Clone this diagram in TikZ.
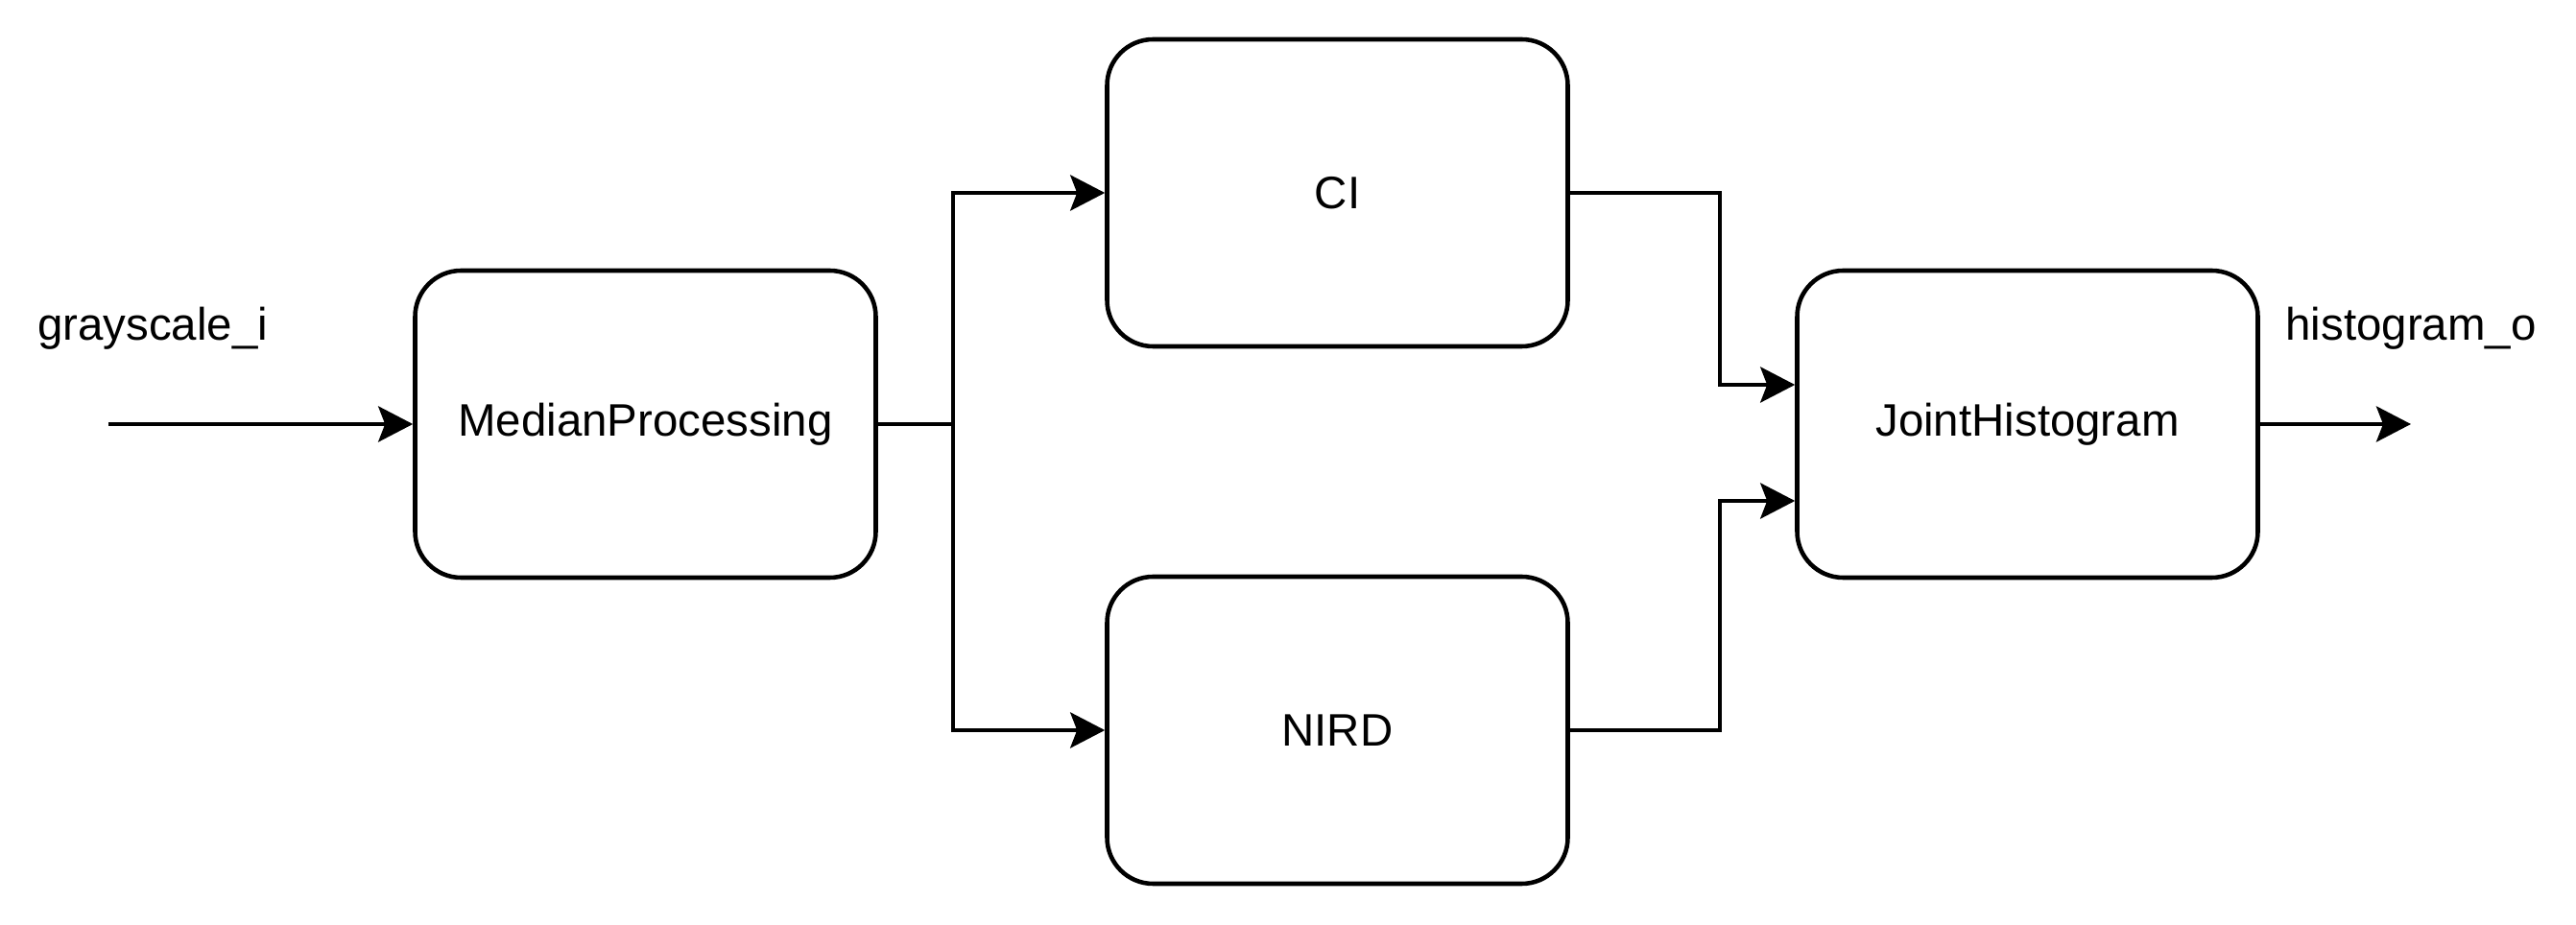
\documentclass[tikz,border=0pt]{standalone}
\usepackage{fontspec}
\setmainfont{Liberation Sans}
\usepackage{tikz}
\usetikzlibrary{arrows.meta,positioning,calc}

\begin{document}
\begin{tikzpicture}[every node/.style={font=\fontsize{13.5}{16}\selectfont},
    blk/.style={draw,line width=1.3pt,rounded corners=0.48cm,minimum width=4.8cm,minimum height=3.2cm,align=center},
    arr/.style={-{Stealth[length=0.36cm,width=0.37cm,inset=0.07cm]},line width=1.3pt}]
  \useasboundingbox (0,0) rectangle (26.84,9.64);

  \node[blk] (median) at (6.725,5.22) {MedianProcessing};
  \node[blk] (ci)     at (13.935,7.63) {CI};
  \node[blk] (nird)   at (13.935,2.03) {NIRD};
  \node[blk] (joint)  at (21.125,5.22) {JointHistogram};

  \node (lblin)  at (1.59,6.22) {grayscale\_i};
  \node (lblout) at (25.12,6.22) {histogram\_o};

  \coordinate (in)    at (1.13,5.22);
  \coordinate (out)   at (25.12,5.22);
  \coordinate (split) at (9.93,5.22);
  \coordinate (bendA) at (17.92,5.63);
  \coordinate (bendB) at (17.92,4.42);

  \draw[arr] (in) -- (median.west);
  \draw[line width=1.3pt] (median.east) -- (split);
  \draw[arr] (split) |- (ci.west);
  \draw[arr] (split) |- (nird.west);
  \draw[arr] (ci.east) -| (bendA) -- (joint.west |- bendA);
  \draw[arr] (nird.east) -| (bendB) -- (joint.west |- bendB);
  \draw[arr] (joint.east) -- (out);
\end{tikzpicture}
\end{document}
